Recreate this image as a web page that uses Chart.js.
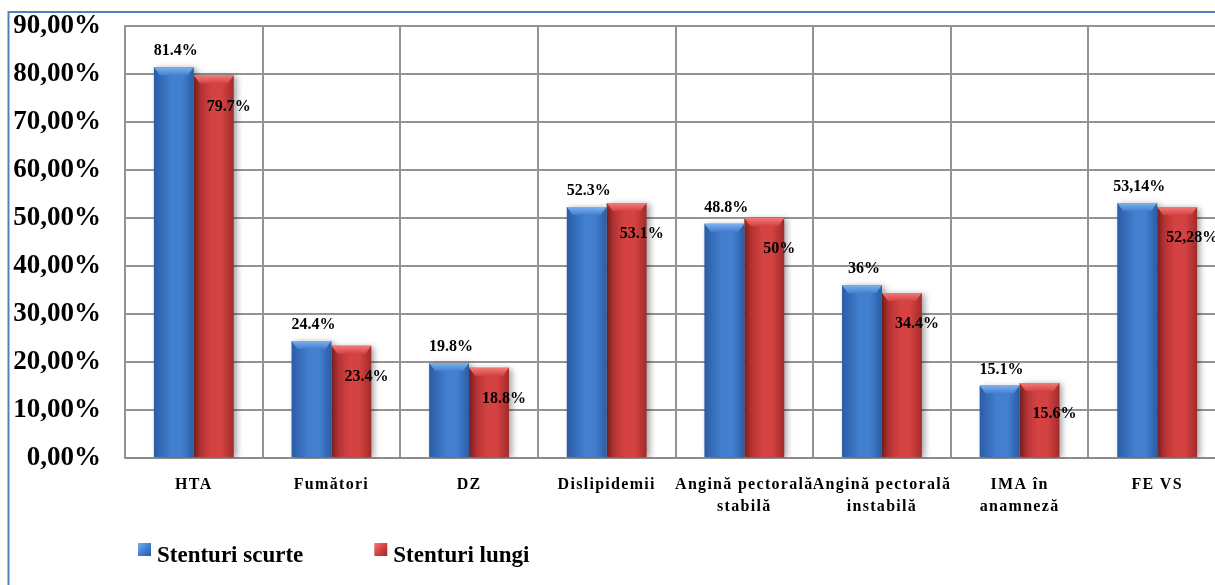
<!DOCTYPE html>
<html><head><meta charset="utf-8">
<script src="https://cdn.jsdelivr.net/npm/chart.js@4/dist/chart.umd.min.js"></script>
<style>
html,body{margin:0;padding:0;background:#fff;overflow:hidden;}
#wrap{width:1215px;height:585px;overflow:hidden;position:relative;background:#fff;}
canvas{display:block;}
</style></head><body>
<div id="wrap"><canvas id="c" width="1240" height="585" style="width:1240px;height:585px"></canvas></div>
<script>
const categories = ['HTA','Fumători','DZ','Dislipidemii',['Angină pectorală','stabilă'],['Angină pectorală','instabilă'],['IMA în','anamneză'],'FE VS'];
const seriesNames = ['Stenturi scurte','Stenturi lungi'];
const shortStents = [81.4, 24.4, 19.8, 52.3, 48.8, 36, 15.1, 53.14];
const longStents  = [79.7, 23.4, 18.8, 53.1, 50, 34.4, 15.6, 52.28];
const shortLabels = ['81.4%','24.4%','19.8%','52.3%','48.8%','36%','15.1%','53,14%'];
const longLabels  = ['79.7%','23.4%','18.8%','53.1%','50%','34.4%','15.6%','52,28%'];
const yTickLabels = ['0,00%','10,00%','20,00%','30,00%','40,00%','50,00%','60,00%','70,00%','80,00%','90,00%'];

const CAT_PCT = 0.58;
const FONT = "'Liberation Serif','Times New Roman',serif";
const palette = [
  {dark:'#2A5CA6', mid:'#4280CF', light:'#7FB0EE'},
  {dark:'#A22A2A', mid:'#D44242', light:'#F27A7A'}
];

function barFill(p){
  return function(ctx){
    const chart = ctx.chart; const xs = chart.scales && chart.scales.x;
    if (!xs || ctx.type !== 'data' || !xs.width) return p.mid;
    const catW = xs.width / categories.length;
    const w = catW * CAT_PCT / 2;
    const cx = xs.getPixelForValue(ctx.dataIndex);
    const left = ctx.datasetIndex === 0 ? cx - w : cx;
    const g = chart.ctx.createLinearGradient(left, 0, left + w, 0);
    g.addColorStop(0, p.dark); g.addColorStop(0.45, p.mid); g.addColorStop(0.7, p.mid); g.addColorStop(1, p.dark);
    return g;
  };
}

const decor = {
  id:'decor',
  beforeDatasetsDraw(chart){
    const c = chart.ctx; c.save();
    c.shadowColor = 'rgba(0,0,0,0.35)'; c.shadowBlur = 6; c.shadowOffsetX = 3; c.shadowOffsetY = 1;
  },
  afterDatasetsDraw(chart){
    const c = chart.ctx; c.restore();
    const labelSets = [shortLabels, longLabels];
    chart.data.datasets.forEach((ds, di) => {
      const meta = chart.getDatasetMeta(di);
      const p = palette[di];
      meta.data.forEach((el) => {
        const l = el.x - el.width/2, r = el.x + el.width/2, t = el.y;
        const g = c.createLinearGradient(0, t, 0, t + 8);
        g.addColorStop(0, p.light); g.addColorStop(1, p.mid);
        c.save();
        c.fillStyle = g;
        c.beginPath(); c.moveTo(l, t); c.lineTo(r, t); c.lineTo(r - 6, t + 8); c.lineTo(l + 6, t + 8); c.closePath(); c.fill();
        c.restore();
      });
    });
    c.save();
    c.fillStyle = '#000'; c.font = 'bold 16px ' + FONT; c.textAlign = 'center';
    chart.data.datasets.forEach((ds, di) => {
      const meta = chart.getDatasetMeta(di);
      meta.data.forEach((el, i) => {
        if (di === 0) { c.textBaseline = 'bottom'; c.fillText(labelSets[0][i], el.x + 2, el.y - 8); }
        else { c.textBaseline = 'middle'; c.fillText(labelSets[1][i], el.x + 15, el.y + 31); }
      });
    });
    c.restore();
    // x-axis labels (drawn next, on a higher layer) are slightly spaced out
    c.letterSpacing = '1.3px';
  },
  afterDraw(chart){
    const c = chart.ctx;
    c.letterSpacing = '0px';
    // legend
    c.save();
    c.font = 'bold 23px ' + FONT; c.textBaseline = 'alphabetic'; c.fillStyle = '#000';
    let x = 138; const y = 543;
    chart.data.datasets.forEach((ds, di) => {
      const p = palette[di];
      const g = c.createLinearGradient(x, y, x + 13, y + 13);
      g.addColorStop(0, p.light); g.addColorStop(0.5, p.mid); g.addColorStop(1, p.dark);
      c.fillStyle = g; c.fillRect(x, y, 13, 13);
      c.fillStyle = '#000';
      c.fillText(ds.label, x + 19, y + 19);
      x = x + 19 + c.measureText(ds.label).width + 71;
    });
    c.restore();
    // outer frame
    c.save();
    c.strokeStyle = '#4F81BD'; c.lineWidth = 2;
    c.beginPath(); c.moveTo(8.5, 585); c.lineTo(8.5, 12); c.lineTo(1240, 12); c.stroke();
    c.restore();
  }
};

new Chart(document.getElementById('c'), {
  type:'bar',
  data:{
    labels: categories,
    datasets:[
      {label: seriesNames[0], data: shortStents, backgroundColor: barFill(palette[0]), borderWidth:0},
      {label: seriesNames[1], data: longStents, backgroundColor: barFill(palette[1]), borderWidth:0}
    ]
  },
  options:{
    responsive:false, animation:false, devicePixelRatio:1,
    layout:{padding:{top:26, right:14, left:0, bottom:0}},
    datasets:{bar:{categoryPercentage:CAT_PCT, barPercentage:1}},
    plugins:{legend:{display:false}, tooltip:{enabled:false}},
    scales:{
      x:{
        afterFit(s){ s.height = 127; s.paddingLeft = 0; s.paddingRight = 0; },
        grid:{offset:true, drawTicks:false, color:'#939393', lineWidth:2},
        border:{display:true, color:'#8C8C8C', width:2},
        ticks:{z:1, autoSkip:false, maxRotation:0, minRotation:0, padding:16, color:'#000',
          font:{family:FONT, weight:'bold', size:16, lineHeight:1.38}}
      },
      y:{
        min:0, max:90,
        afterFit(s){ s.width = 125; s.paddingTop = 0; s.paddingBottom = 0; },
        grid:{drawTicks:false, color:'#939393', lineWidth:2},
        border:{display:true, color:'#939393', width:2},
        ticks:{stepSize:10, padding:24, color:'#000',
          font:{family:FONT, weight:'bold', size:27},
          callback:(v) => yTickLabels[Math.round(v/10)]}
      }
    }
  },
  plugins:[decor]
});
</script>
</body></html>
